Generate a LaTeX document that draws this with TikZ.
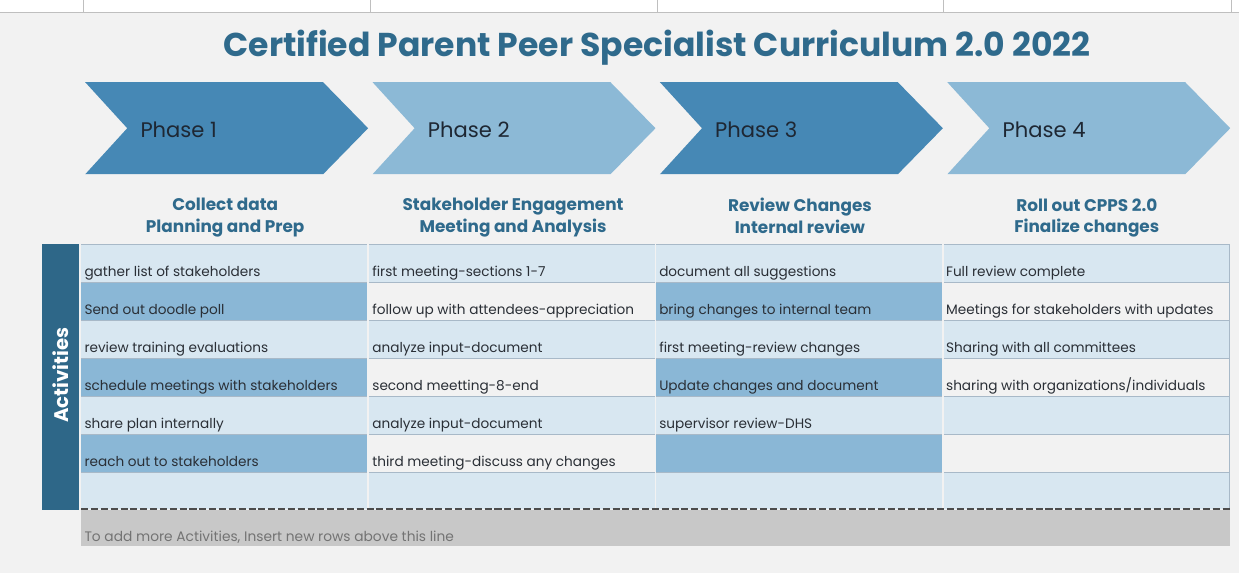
\documentclass[tikz,border=0pt]{standalone}
\usepackage{fontspec}
\setmainfont{Poppins}
\definecolor{pagebg}{HTML}{F2F2F2}
\definecolor{titleblue}{HTML}{2F6A8C}
\definecolor{darkchev}{HTML}{4688B5}
\definecolor{lightchev}{HTML}{8CB9D6}
\definecolor{celllight}{HTML}{D8E7F1}
\definecolor{cellmid}{HTML}{8AB7D6}
\definecolor{barblue}{HTML}{2E6788}
\definecolor{rowline}{HTML}{A8B9C8}
\definecolor{footgrey}{HTML}{C8C8C8}
\definecolor{phaseink}{HTML}{1E2733}
\definecolor{cellink}{HTML}{2A2F36}
\begin{document}
\begin{tikzpicture}[x=0.025cm,y=-0.025cm,
  celltext/.style={anchor=base west,inner sep=0pt,text=cellink,font=\fontsize{9.7}{11}\selectfont},
  headtext/.style={anchor=north,inner sep=0pt,align=center,text=titleblue,font=\bfseries\fontsize{12}{15.6}\selectfont},
  phasetext/.style={anchor=base west,inner sep=0pt,text=phaseink,font=\fontsize{15}{17}\selectfont}]
\fill[pagebg] (0,0) rectangle (1239,573);
\fill[white] (0,0) rectangle (1239,12);
\draw[gray!50] (0,12) -- (1239,12);
\foreach \x in {83,370,657,943,1232} \draw[gray!50] (\x,0) -- (\x,12);
\node[text=titleblue,font=\bfseries\fontsize{23.5}{26}\selectfont] (title) at (657,47) {Certified Parent Peer Specialist Curriculum 2.0 2022};
\foreach \i/\c in {0/darkchev,1/lightchev,2/darkchev,3/lightchev} {
  \pgfmathsetmacro{\l}{85+287.5*\i}
  \fill[\c] (\l,82) -- ++(238,0) -- ++(45,46) -- ++(-45,46) -- ++(-238,0) -- ++(42,-46) -- cycle;
  \pgfmathtruncatemacro{\n}{\i+1}
  \node[phasetext] (phase\n) at (\l+55,137) {Phase \n};
}
\node[headtext] (head1) at (225,198) {Collect data\\Planning and Prep};
\node[headtext] (head2) at (513,198) {Stakeholder Engagement\\Meeting and Analysis};
\node[headtext] (head3) at (800,198) {Review Changes\\Internal review};
\node[headtext] (head4) at (1087,198) {Roll out CPPS 2.0\\Finalize changes};
\fill[barblue] (42,244) rectangle (79,510);
\node[rotate=90,text=white,font=\bfseries\fontsize{14}{16}\selectfont] (act) at (60,375) {Activities};
\foreach \c in {0,1,2,3} {
  \pgfmathsetmacro{\l}{81+287.7*\c}
  \fill[celllight] (\l,244) rectangle (\l+286,509);
  \foreach \r in {1,3,5} {
    \ifodd\c
      \fill[pagebg] (\l,244+38*\r) rectangle (\l+286,282+38*\r);
    \else
      \fill[cellmid] (\l,244+38*\r) rectangle (\l+286,282+38*\r);
    \fi
  }
  \foreach \y in {244,282,320,358,396,434,472}
    \draw[rowline,line width=0.6pt] (\l,\y) -- (\l+286,\y);
}
\draw[rowline] (1230,244) -- (1230,509);
\foreach \r/\t in {0/gather list of stakeholders,1/Send out doodle poll,2/review training evaluations,3/schedule meetings with stakeholders,4/share plan internally,5/reach out to stakeholders}
  \node[celltext] (a\r) at (84,276+38*\r) {\t};
\foreach \r/\t in {0/first meeting-sections 1-7,1/follow up with attendees-appreciation,2/analyze input-document,3/second meetting-8-end,4/analyze input-document,5/third meeting-discuss any changes}
  \node[celltext] (b\r) at (372,276+38*\r) {\t};
\foreach \r/\t in {0/document all suggestions,1/bring changes to internal team,2/first meeting-review changes,3/Update changes and document,4/supervisor review-DHS}
  \node[celltext] (c\r) at (659,276+38*\r) {\t};
\foreach \r/\t in {0/Full review complete,1/Meetings for stakeholders with updates,2/Sharing with all committees,3/{sharing with organizations/individuals}}
  \node[celltext] (d\r) at (946,276+38*\r) {\t};
\fill[footgrey] (81,510) rectangle (1230,546);
\draw[black!70,line width=1.4pt,dash pattern=on 5pt off 2pt] (81,509) -- (1230,509);
\node[celltext,text=black!55,font=\fontsize{9.8}{11}\selectfont] (note) at (84,541) {To add more Activities, Insert new rows above this line};
\end{tikzpicture}
\end{document}
